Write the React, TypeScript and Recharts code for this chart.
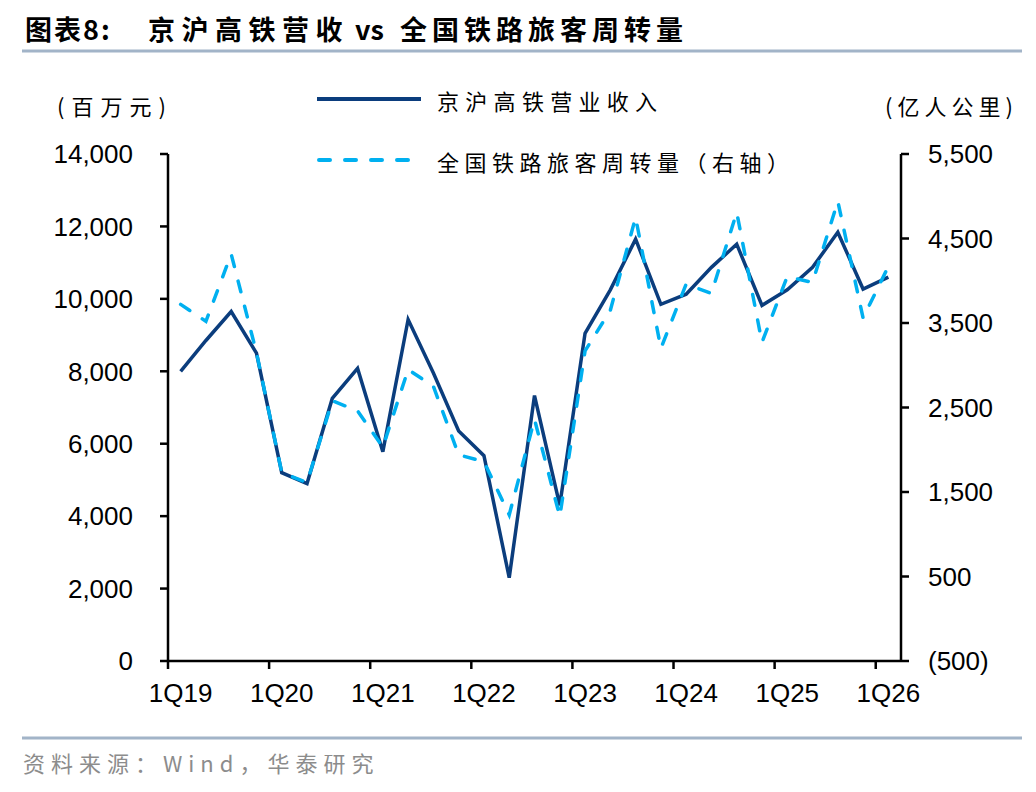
import React from "react"
import { LineChart, Line, XAxis, YAxis } from "recharts"

const quarters = [
  "1Q19", "2Q19", "3Q19", "4Q19",
  "1Q20", "2Q20", "3Q20", "4Q20",
  "1Q21", "2Q21", "3Q21", "4Q21",
  "1Q22", "2Q22", "3Q22", "4Q22",
  "1Q23", "2Q23", "3Q23", "4Q23",
  "1Q24", "2Q24", "3Q24", "4Q24",
  "1Q25", "2Q25", "3Q25", "4Q25",
  "1Q26",
]

// 京沪高铁营业收入 (百万元)
const revenue = [
  8000, 8850, 9650, 8500,
  5200, 4900, 7250, 8080,
  5780, 9430, 7950, 6350,
  5670, 2300, 7330, 4300,
  9050, 10250, 11650, 9850,
  10130, 10870, 11510, 9820,
  10250, 10870, 11840, 10270,
  10600,
]

// 全国铁路旅客周转量 (亿人公里, 右轴)
const turnover = [
  3720, 3520, 4315, 3150,
  1730, 1610, 2580, 2460,
  2030, 2950, 2750, 1940,
  1860, 1230, 2360, 1210,
  3170, 3650, 4750, 3200,
  3960, 3850, 4810, 3270,
  4050, 3980, 4940, 3560,
  4170,
]

const leftTicks = [0, 2000, 4000, 6000, 8000, 10000, 12000, 14000]
const rightTicks = [-500, 500, 1500, 2500, 3500, 4500, 5500]

const data = quarters.map((q, i) => ({ q, revenue: revenue[i], turnover: turnover[i] }))

const W = 1036
const H = 792
const PLOT_LEFT = 168
const PLOT_RIGHT = 901
const PLOT_TOP = 154
const PLOT_BOTTOM = 661
const AXIS_W = 120
const X_H = 60
const BAND = (PLOT_RIGHT - PLOT_LEFT) / quarters.length

const NAVY = "#0B3D7D"
const SKY = "#00B0F0"
const RULE = "#A2B4C8"
const NUM_FONT = "'Liberation Sans', Arial, sans-serif"
const CJK_FONT = "'Noto Sans CJK SC', 'Noto Sans', sans-serif"

const fmt = (v: number) => {
  const s = Math.abs(v).toLocaleString("en-US")
  return v < 0 ? `(${s})` : s
}

function XTick(props: any) {
  const { x, payload } = props
  const bx = x - BAND / 2
  return (
    <g>
      <line x1={bx} x2={bx} y1={PLOT_BOTTOM} y2={PLOT_BOTTOM + 8} stroke="#000" strokeWidth={2.5} />
      <text x={x} y={PLOT_BOTTOM + 41} textAnchor="middle" fill="#000" fontSize={26} fontFamily={NUM_FONT}>
        {payload.value}
      </text>
    </g>
  )
}

export default function App() {
  const tickStyle = { fill: "#000", fontSize: 26, fontFamily: NUM_FONT }
  const axisStyle = { stroke: "#000", strokeWidth: 2.5 }

  return (
    <div style={{ position: "absolute", left: 0, top: 0, width: W, height: H, overflow: "hidden", background: "#fff" }}>
      <LineChart
        width={W}
        height={H}
        data={data}
        margin={{ top: PLOT_TOP, right: W - PLOT_RIGHT - AXIS_W, bottom: H - PLOT_BOTTOM - X_H, left: PLOT_LEFT - AXIS_W }}
      >
        <XAxis
          dataKey="q"
          scale="band"
          interval={3}
          height={X_H}
          axisLine={axisStyle}
          tickLine={false}
          tick={<XTick />}
        />
        <YAxis
          yAxisId="left"
          width={AXIS_W}
          domain={[0, 14000]}
          ticks={leftTicks}
          tickFormatter={fmt}
          axisLine={axisStyle}
          tickLine={axisStyle}
          tickSize={8}
          tickMargin={27}
          tick={tickStyle}
        />
        <YAxis
          yAxisId="right"
          orientation="right"
          width={AXIS_W}
          domain={[-500, 5500]}
          ticks={rightTicks}
          tickFormatter={fmt}
          axisLine={axisStyle}
          tickLine={axisStyle}
          tickSize={8}
          tickMargin={19}
          tick={{ ...tickStyle, textAnchor: "start" }}
        />
        <Line
          yAxisId="left"
          type="linear"
          dataKey="revenue"
          stroke={NAVY}
          strokeWidth={3.5}
          dot={false}
          isAnimationActive={false}
        />
        <Line
          yAxisId="right"
          type="linear"
          dataKey="turnover"
          stroke={SKY}
          strokeWidth={3.5}
          strokeDasharray="11 15"
          strokeLinecap="round"
          dot={false}
          isAnimationActive={false}
        />
      </LineChart>

      <svg width={W} height={H} style={{ position: "absolute", left: 0, top: 0, pointerEvents: "none" }}>
        <text y={28} dominantBaseline="central" fontSize={27} fontWeight={700} fontFamily={CJK_FONT} fill="#000">
          <tspan x={25} letterSpacing={2}>图表8:</tspan>
          <tspan x={148} letterSpacing={6.5}>京沪高铁营收</tspan>
          <tspan x={355} letterSpacing={0}>vs</tspan>
          <tspan x={400} letterSpacing={5}>全国铁路旅客周转量</tspan>
        </text>
        <line x1={22} x2={1022} y1={51} y2={51} stroke={RULE} strokeWidth={3} />

        <text x={57} y={105} dominantBaseline="central" fontSize={22} fontFamily={CJK_FONT} letterSpacing={7} fill="#000">
          (百万元)
        </text>
        <text x={885} y={105} dominantBaseline="central" fontSize={22} fontFamily={CJK_FONT} letterSpacing={5} fill="#000">
          (亿人公里)
        </text>

        <line x1={317} x2={421} y1={99} y2={99} stroke={NAVY} strokeWidth={4} />
        <text x={437} y={100} dominantBaseline="central" fontSize={22} fontFamily={CJK_FONT} letterSpacing={6.3} fill="#000">
          京沪高铁营业收入
        </text>
        <line x1={319} x2={421} y1={160} y2={160} stroke={SKY} strokeWidth={4} strokeDasharray="11 15" strokeLinecap="round" />
        <text x={437} y={161} dominantBaseline="central" fontSize={22} fontFamily={CJK_FONT} letterSpacing={5.5} fill="#000">
          全国铁路旅客周转量（右轴）
        </text>

        <line x1={22} x2={1022} y1={738} y2={738} stroke={RULE} strokeWidth={3} />
        <text x={23} y={762} dominantBaseline="central" fontSize={22} fontFamily={CJK_FONT} letterSpacing={6} fill="#8C8C8C">
          资料来源：Wind，华泰研究
        </text>
      </svg>
    </div>
  )
}
